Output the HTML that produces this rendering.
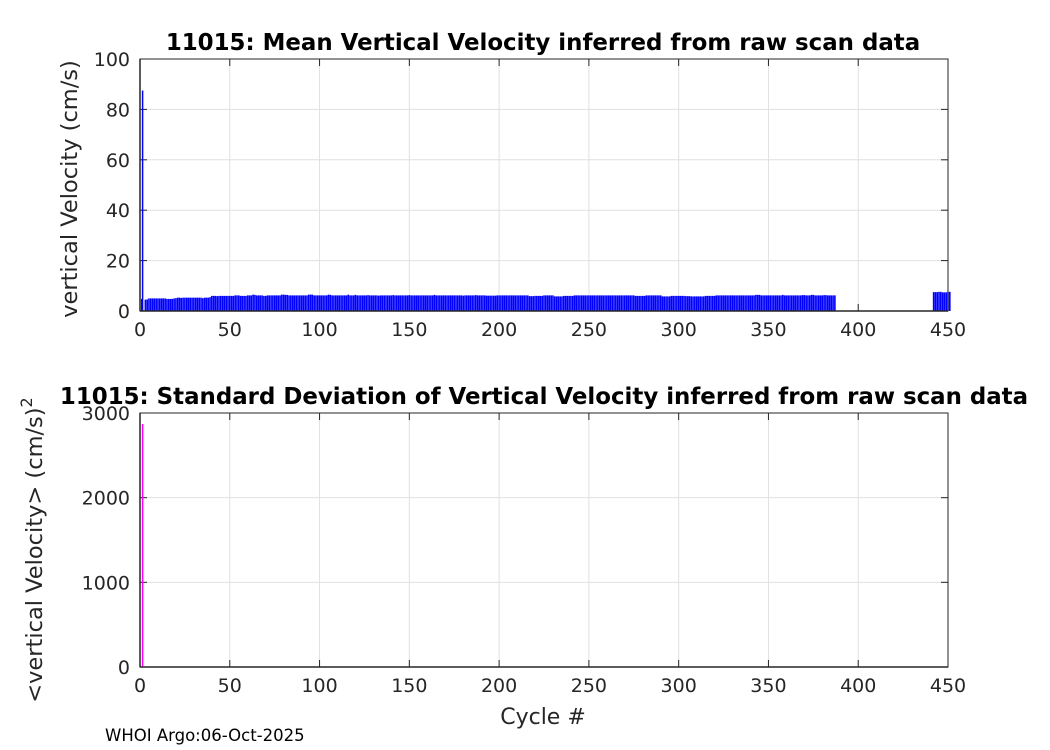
<!DOCTYPE html>
<html><head><meta charset="utf-8"><style>
body{margin:0;background:#fff;}
svg{display:block;font-family:"DejaVu Sans","Liberation Sans",sans-serif;}
</style></head><body>
<svg id="c" width="1050" height="750" xmlns="http://www.w3.org/2000/svg"></svg>
<script>
const xTicks=[0,50,100,150,200,250,300,350,400,450];
const yTicksTop=[0,20,40,60,80,100];
const yTicksBot=[0,1000,2000,3000];
// mean vertical velocity per cycle, cycles 1..388
const meanA=[4.8,87.5,4.5,4.6,5,5,5,5,5,5,5,5,5,5,4.8,4.8,4.8,4.8,5,5.1,
5.3,5.3,5.2,5.3,5.3,5.3,5.3,5.3,5.3,5.3,5.3,5.3,5.3,5.3,5.1,5.3,5.3,5.3,5.5,6,
6,6,5.9,6,6,6,6,6,6,6,6,6,6.2,6.2,6.2,6,6,6,6,6.2,6.2,6.2,6.5,6.4,6.2,6.2,6.2,6.2,6,6,
6.2,6.2,6.2,6.2,6.2,6.2,6.2,6.2,6.5,6.5,6.4,6.4,6.2,6.2,6.2,6.2,6.2,6.2,6.2,6.2,
6.2,6.2,6.2,6.5,6.5,6.5,6.2,6.2,6.2,6.2,6.2,6.2,6.2,6.2,6.5,6.4,6.2,6.2,6.2,6.2,
6.2,6.2,6.2,6.2,6.2,6.5,6.2,6.2,6.2,6.4,6.2,6.2,6.2,6.2,6.2,6.2,6.3,6.2,6.2,6.2,
6.2,6.2,6.1,6.2,6.2,6.2,6.2,6.2,6.2,6.2,6.3,6.2,6.2,6.2,6.2,6.2,6.2,6.2,6.2,6.3,
6.2,6.2,6.2,6.2,6.2,6.2,6.2,6.2,6.2,6.2,6.2,6.2,6.2,6.4,6.2,6.2,6.2,6.2,6.2,6.2,
6.2,6.2,6.2,6.2,6.2,6.2,6.2,6.2,6.2,6.1,6.2,6.2,6.2,6.2,6.2,6.2,6.3,6.2,6.2,6.2,
6.2,6.2,6.1,6.1,6.1,6.1,6.1,6.1,6.2,6.2,6.2,6.2,6.2,6.2,6.2,6.2,6.2,6.2,6.2,6.2,
6.2,6.2,6.2,6.2,6.2,6.2,5.9,5.9,5.9,6,6,6,6,6,6.2,6.2,6.2,6.2,6.2,6.2,
5.8,5.8,5.8,5.8,5.8,6,6,6,6,6,6,6.2,6.2,6.2,6.2,6.2,6.2,6.2,6.2,6.2,
6.2,6.2,6.2,6.2,6.2,6.2,6.2,6.2,6.2,6.2,6.2,6.2,6.2,6.2,6.2,6.2,6.2,6.2,6.2,6.2,
6.2,6.2,6.2,6.2,6.2,6,6,6,6,6,6,6.2,6.2,6.2,6.2,6.2,6.2,6.2,6.2,6.2,
5.8,5.8,5.8,5.8,5.8,6,6,6,6,6,6,6,6,5.9,5.9,5.9,5.8,5.8,5.8,5.8,
5.8,5.8,5.8,5.8,6,6,6,6,6,6,6.2,6.2,6.2,6.2,6.2,6.2,6.2,6.2,6.2,6.2,
6.2,6.2,6.2,6.2,6.2,6.2,6.2,6.2,6.2,6.2,6.2,6.2,6.4,6.4,6.4,6.2,6.2,6.2,6.2,6.2,
6.2,6.2,6.2,6.2,6.2,6.2,6.2,6.4,6.2,6.2,6.2,6.2,6.2,6.2,
6.2,6.2,6.2,6.2,6.3,6.3,6.2,6.2,6.2,6.4,6.4,6.2,6.2,6.2,6.2,6.2,6.3,6.3,6.2,6.2,6.2,6.2,6.2];
// cycles 442..451
const meanB=[7.5,7.5,7.5,7.6,7.6,7.4,7.4,7.4,7.6,7.6];
const startB=442;
const stdCycles=[2];
const stdValues=[2870];

const svg=document.getElementById('c');
const NS='http://www.w3.org/2000/svg';
const L=140,R=948;
const sx=v=>L+(v/450)*(R-L);
const topT=59,topB=311,botT=413,botB=667;
const syT=v=>topB-(v/100)*(topB-topT);
const syB=v=>botB-(v/3000)*(botB-botT);
function el(tag,attrs,parent){const e=document.createElementNS(NS,tag);for(const k in attrs)e.setAttribute(k,attrs[k]);(parent||svg).appendChild(e);return e;}

function axes(t,b,yt,sy,name){
  const g=el('g',{});
  
  
  el('rect',{x:L,y:t,width:R-L,height:b-t,fill:'#fff'},g);
  xTicks.forEach(v=>{
    el('line',{x1:sx(v),x2:sx(v),y1:t,y2:b,stroke:'#e0e0e0','stroke-width':1},g);
    el('line',{x1:sx(v),x2:sx(v),y1:b,y2:b-7,stroke:'#262626'},g);
    el('line',{x1:sx(v),x2:sx(v),y1:t,y2:t+7,stroke:'#262626'},g);
    const tx=el('text',{x:sx(v),y:b+25,'font-size':19,'text-anchor':'middle',fill:'#262626'},g);
    tx.textContent=v;
    
    
  });
  yt.forEach(v=>{
    el('line',{x1:L,x2:R,y1:sy(v),y2:sy(v),stroke:'#e0e0e0','stroke-width':1},g);
    el('line',{x1:L,x2:L+7,y1:sy(v),y2:sy(v),stroke:'#262626'},g);
    el('line',{x1:R,x2:R-7,y1:sy(v),y2:sy(v),stroke:'#262626'},g);
    const tx=el('text',{x:L-10,y:sy(v)+7,'font-size':19,'text-anchor':'end',fill:'#262626'},g);
    tx.textContent=v;
    
    
  });
  return g;
}
axes(topT,topB,yTicksTop,syT,'mean-velocity-axes');
axes(botT,botB,yTicksBot,syB,'std-velocity-axes');

const bw=(R-L)/450;
const barsG=el('g',{});


function bar(c,v){
  const x=sx(c)-bw*0.45;
  const r=el('rect',{x:x,y:syT(v),width:bw*0.9,height:topB-syT(v),fill:'#0000ff'},barsG);
  
  
}
meanA.forEach((v,i)=>{if(i!==1)bar(i+1,v);});
meanB.forEach((v,i)=>bar(startB+i,v));
{const l=el('line',{x1:sx(2)-1,x2:sx(2)-1,y1:syT(meanA[1]),y2:topB,stroke:'#0000ff','stroke-width':1.5},barsG);
}

stdCycles.forEach((c,i)=>{
  const l=el('line',{x1:sx(c)-1,x2:sx(c)-1,y1:syB(stdValues[i]),y2:botB,stroke:'#ff00ff','stroke-width':1.5});
  
  
});

[[topT,topB],[botT,botB]].forEach(([t,b])=>{
  el('rect',{x:L,y:t,width:R-L,height:b-t,fill:'none',stroke:'#262626','stroke-width':1});
  el('line',{x1:L,x2:L,y1:t,y2:b,stroke:'#262626','stroke-width':1.5});
  el('line',{x1:L,x2:R,y1:b,y2:b,stroke:'#262626','stroke-width':1.5});
});

function txt(s,attrs,name){const t=el('text',attrs);t.textContent=s;return t;}
txt('11015: Mean Vertical Velocity inferred from raw scan data',{x:543,y:50,'font-size':22.9,'font-weight':'bold','text-anchor':'middle',fill:'#000'},'top-title');
txt('11015: Standard Deviation of Vertical Velocity inferred from raw scan data',{x:544,y:404,'font-size':22.9,'font-weight':'bold','text-anchor':'middle',fill:'#000'},'bottom-title');
txt('vertical Velocity (cm/s)',{x:0,y:0,'font-size':22.5,'text-anchor':'middle',fill:'#262626',transform:'translate(77,189) rotate(-90)'},'top-y-axis-title');
const yb=txt('<vertical Velocity> (cm/s)',{x:0,y:0,'font-size':22.5,'text-anchor':'middle',fill:'#262626',transform:'translate(42,550) rotate(-90)'},'bottom-y-axis-title');
const sup=el('tspan',{'font-size':16,dy:-10});sup.textContent='2';yb.appendChild(sup);
txt('Cycle #',{x:543,y:724,'font-size':22,'text-anchor':'middle',fill:'#262626'},'x-axis-title');
txt('WHOI Argo:06-Oct-2025',{x:105,y:741,'font-size':16.5,fill:'#000'},'footer-note');
</script>
</body></html>
